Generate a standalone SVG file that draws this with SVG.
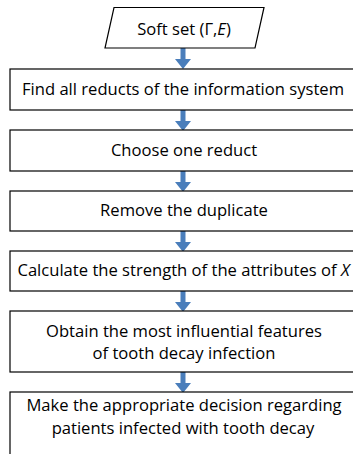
<svg xmlns="http://www.w3.org/2000/svg" width="353" height="454" viewBox="0 0 353 454">
<defs>
<style>
.box{fill:#fff;stroke:#000;stroke-width:1.2}
.t{font-family:"Open Sans","Noto Sans",sans-serif;font-size:16.6px;fill:#000;text-anchor:middle}
.arr{fill:#4a7ebb}
</style>
<path id="ar" class="arr" d="M-2.5,0 H2.5 V11 H8 L0,21 L-8,11 H-2.5 Z"/>
</defs>
<rect width="353" height="454" fill="#fff"/>
<g id="connectors">
<use href="#ar" x="183" y="48"/>
<use href="#ar" x="183" y="110"/>
<use href="#ar" x="183" y="171"/>
<use href="#ar" x="183" y="231"/>
<use href="#ar" x="183" y="291"/>
<use href="#ar" x="183" y="372"/>
</g>
<g id="n0">
<polygon class="box" points="114,7.5 264,7.5 255,48 105,48"/>
<text class="t" x="184" y="35">Soft set (Γ,<tspan font-style="italic">E</tspan>)</text>
</g>
<g id="n1">
<rect class="box" x="10" y="69" width="350" height="41"/>
<text class="t" x="183" y="95">Find all reducts of the information system</text>
</g>
<g id="n2">
<rect class="box" x="10" y="130" width="350" height="41"/>
<text class="t" x="184" y="156">Choose one reduct</text>
</g>
<g id="n3">
<rect class="box" x="10" y="191" width="350" height="40"/>
<text class="t" x="184" y="216">Remove the duplicate</text>
</g>
<g id="n4">
<rect class="box" x="10" y="251" width="350" height="40"/>
<text class="t" x="183.5" y="276">Calculate the strength of the attributes of <tspan font-style="italic">X</tspan></text>
</g>
<g id="n5">
<rect class="box" x="10" y="311" width="350" height="61"/>
<text class="t" x="184" y="337">Obtain the most influential features</text>
<text class="t" x="184" y="359">of tooth decay infection</text>
</g>
<g id="n6">
<rect class="box" x="10" y="392" width="350" height="80"/>
<text class="t" x="184" y="411">Make the appropriate decision regarding</text>
<text class="t" x="183" y="434">patients infected with tooth decay</text>
</g>
</svg>
